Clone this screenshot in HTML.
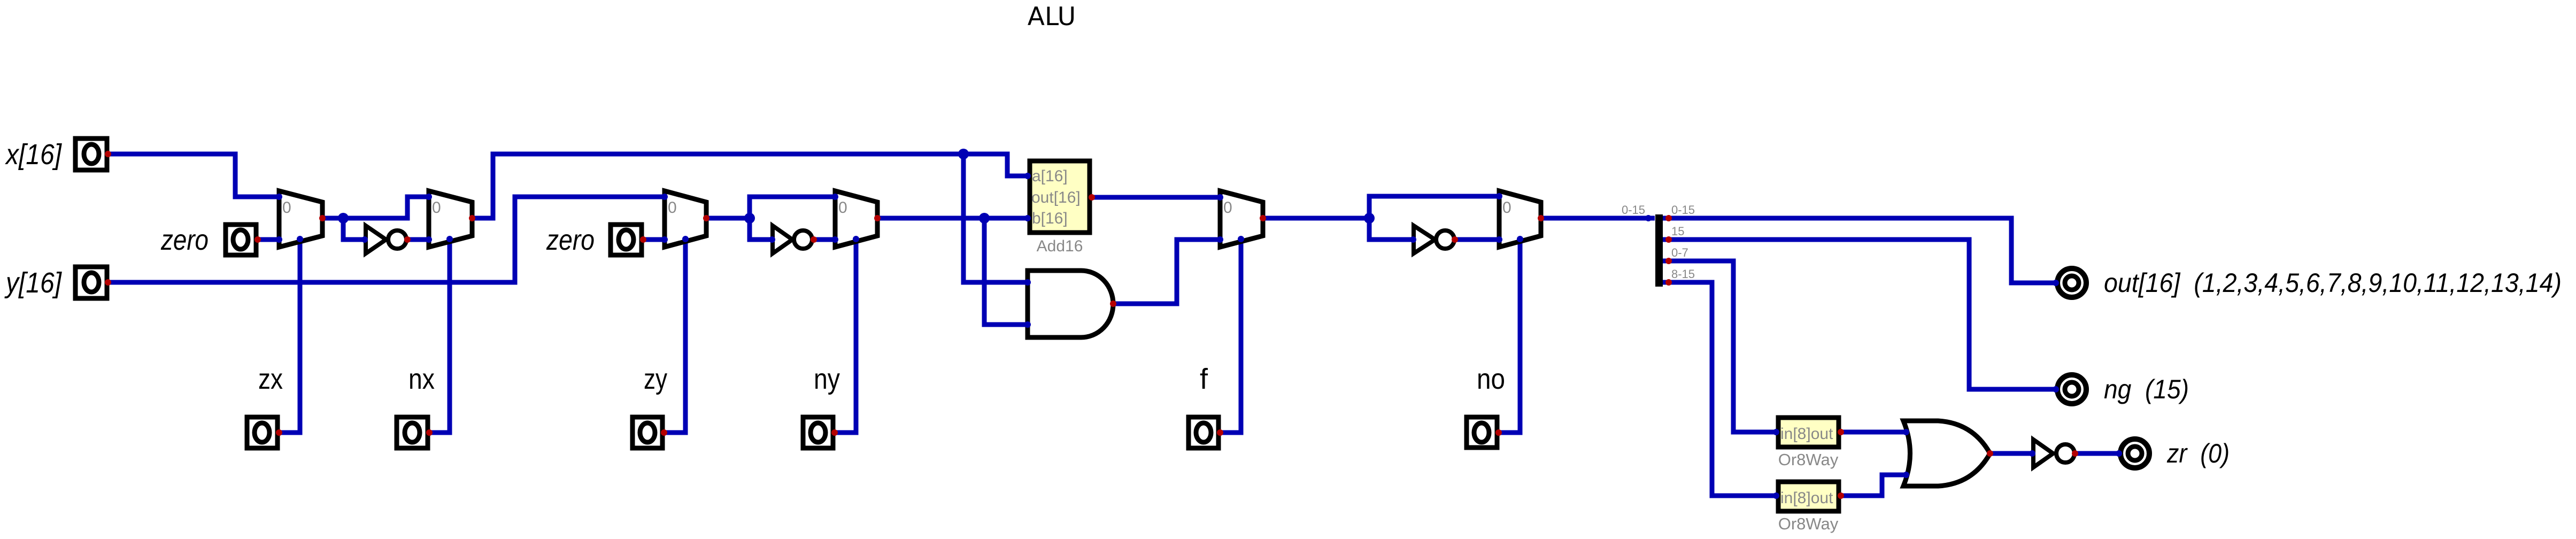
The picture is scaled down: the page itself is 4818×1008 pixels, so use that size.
<!DOCTYPE html>
<html><head><meta charset="utf-8"><style>
html,body{margin:0;padding:0;background:#fff;}
svg{display:block;}
text{font-family:"Liberation Sans",sans-serif;}
</style></head><body>
<svg width="4818" height="1008" viewBox="0 0 4818 1008" xmlns="http://www.w3.org/2000/svg">
<rect width="4818" height="1008" fill="#fff"/>
<text x="1967" y="47" font-size="47" text-anchor="middle" style="font-family:'DejaVu Sans',sans-serif">ALU</text>

<g fill="none" stroke="#0000b4" stroke-width="9" stroke-linejoin="miter">
<polyline points="204,288 440,288 440,368 522,368"/>
<polyline points="483,448 522,448"/>
<polyline points="603,408 762,408 762,368 802,368"/>
<polyline points="642,408 642,448 682,448"/>
<polyline points="762,448 802,448"/>
<polyline points="883,408 922,408 922,288 1884,288 1884,329 1922,329"/>
<polyline points="204,528 963,528 963,368 1243,368"/>
<polyline points="1204,448 1243,448"/>
<polyline points="1321,408 1402,408 1402,368 1562,368"/>
<polyline points="1402,408 1402,448 1444,448"/>
<polyline points="1522,448 1562,448"/>
<polyline points="1641,408 1922,408"/>
<polyline points="1802,288 1802,528 1922,528"/>
<polyline points="1841,408 1841,607 1922,607"/>
<polyline points="2042,369 2282,369"/>
<polyline points="2082,568 2201,568 2201,448 2282,448"/>
<polyline points="2362,408 2561,408 2561,367 2804,367"/>
<polyline points="2561,408 2561,448 2643,448"/>
<polyline points="2721,448 2804,448"/>
<polyline points="2882,408 3095,408"/>
<polyline points="3110,408 3762,408 3762,529 3843,529"/>
<polyline points="3110,448 3683,448 3683,728 3843,728"/>
<polyline points="3110,488 3242,488 3242,808 3322,808"/>
<polyline points="3110,528 3202,528 3202,927 3322,927"/>
<polyline points="3443,808 3565,808"/>
<polyline points="3443,927 3520,927 3520,888 3565,888"/>
<polyline points="3722,848 3801,848"/>
<polyline points="3881,848 3962,848"/>
<polyline points="561,445 561,809 523,809"/>
<polyline points="841,445 841,809 804,809"/>
<polyline points="1282,445 1282,809 1243,809"/>
<polyline points="1601,445 1601,809 1562,809"/>
<polyline points="2321,445 2321,809 2283,809"/>
<polyline points="2843,445 2843,809 2804,809"/>
</g>

<g fill="#fff" stroke="#000" stroke-width="9">
<polygon points="522,357 603,378 603,441 522,462"/>
<polygon points="802,357 883,378 883,441 802,462"/>
<polygon points="1243,357 1321,378 1321,441 1243,462"/>
<polygon points="1562,357 1641,378 1641,441 1562,462"/>
<polygon points="2282,357 2362,378 2362,441 2282,462"/>
<polygon points="2804,357 2882,378 2882,441 2804,462"/>
</g>
<g fill="#888" font-size="30">
<text x="528" y="398">0</text><text x="808" y="398">0</text><text x="1249" y="398">0</text>
<text x="1568" y="398">0</text><text x="2288" y="398">0</text><text x="2810" y="398">0</text>
</g>

<g fill="#fff" stroke="#000" stroke-width="8">
<polygon points="684,422 722,448 684,474"/><circle cx="743" cy="448" r="17"/>
<polygon points="1445,422 1482,448 1445,474"/><circle cx="1502" cy="448" r="17"/>
<polygon points="2644,422 2684,448 2644,474"/><circle cx="2703" cy="448" r="17"/>
<polygon points="3803,822 3840,848 3803,874"/><circle cx="3863" cy="848" r="17"/>
</g>

<g>
<rect x="1926" y="301" width="112" height="134" fill="#ffffc4" stroke="#000" stroke-width="9"/>
<g fill="#888" font-size="30"><text x="1930" y="339">a[16]</text><text x="1929" y="379">out[16]</text><text x="1930" y="418">b[16]</text>
<text x="1982" y="470" text-anchor="middle">Add16</text></g>
</g>
<path d="M1922,506 L2022,506 A60,62.5 0 0 1 2022,631 L1922,631 Z" fill="#fff" stroke="#000" stroke-width="9"/>

<rect x="3096" y="401" width="14" height="135" fill="#000"/>
<g fill="#888" font-size="22">
<text x="3033" y="400">0-15</text><text x="3126" y="400">0-15</text><text x="3126" y="440">15</text>
<text x="3126" y="480">0-7</text><text x="3126" y="520">8-15</text></g>

<g>
<rect x="3326" y="781" width="113" height="55" fill="#ffffc4" stroke="#000" stroke-width="9"/>
<text x="3330" y="821" fill="#888" font-size="30">in[8]out</text>
<text x="3382" y="870" fill="#888" font-size="31" text-anchor="middle">Or8Way</text></g>
<g>
<rect x="3326" y="901" width="113" height="55" fill="#ffffc4" stroke="#000" stroke-width="9"/>
<text x="3330" y="941" fill="#888" font-size="30">in[8]out</text>
<text x="3382" y="990" fill="#888" font-size="31" text-anchor="middle">Or8Way</text></g>
<path d="M3560,787 Q3585,848 3560,909 L3625,909 Q3690,905 3722,848 Q3690,791 3625,787 Z" fill="#fff" stroke="#000" stroke-width="9"/>

<g fill="#fff" stroke="#000" stroke-width="9">
<g><rect x="141" y="259" width="59" height="59"/><ellipse cx="171" cy="288" rx="14" ry="18"/></g>
<g><rect x="141" y="499" width="59" height="59"/><ellipse cx="171" cy="528" rx="14" ry="18"/></g>
<g><rect x="422" y="420" width="57" height="57"/><ellipse cx="450" cy="448" rx="14" ry="18"/></g>
<g><rect x="1142" y="420" width="58" height="57"/><ellipse cx="1171" cy="448" rx="14" ry="18"/></g>
<g><rect x="462" y="780" width="57" height="58"/><ellipse cx="490" cy="809" rx="14" ry="18"/></g>
<g><rect x="742" y="780" width="58" height="58"/><ellipse cx="771" cy="809" rx="14" ry="18"/></g>
<g><rect x="1183" y="780" width="56" height="58"/><ellipse cx="1211" cy="809" rx="14" ry="18"/></g>
<g><rect x="1502" y="780" width="56" height="58"/><ellipse cx="1530" cy="809" rx="14" ry="18"/></g>
<g><rect x="2223" y="780" width="56" height="58"/><ellipse cx="2251" cy="809" rx="14" ry="18"/></g>
<g><rect x="2743" y="780" width="57" height="57"/><ellipse cx="2771" cy="809" rx="14" ry="18"/></g>
</g>
<g fill="none" stroke="#000">
<g><circle cx="3875" cy="529" r="27" stroke-width="10"/><circle cx="3875" cy="529" r="13" stroke-width="9"/></g>
<g><circle cx="3875" cy="728" r="27" stroke-width="10"/><circle cx="3875" cy="728" r="13" stroke-width="9"/></g>
<g><circle cx="3993" cy="848" r="27" stroke-width="10"/><circle cx="3993" cy="848" r="13" stroke-width="9"/></g>
</g>

<g fill="#0000b4">
<circle cx="642" cy="408" r="10"/><circle cx="1402" cy="408" r="10"/><circle cx="1802" cy="288" r="10"/>
<circle cx="1841" cy="408" r="10"/><circle cx="2561" cy="408" r="10"/>
</g>
<g fill="#b40000">
<circle cx="202" cy="288" r="6"/><circle cx="202" cy="528" r="6"/><circle cx="482" cy="448" r="6"/><circle cx="1203" cy="448" r="6"/>
<circle cx="522" cy="809" r="6"/><circle cx="803" cy="809" r="6"/><circle cx="1242" cy="809" r="6"/><circle cx="1561" cy="809" r="6"/>
<circle cx="2282" cy="809" r="6"/><circle cx="2803" cy="809" r="6"/>
<circle cx="603" cy="408" r="6"/><circle cx="883" cy="408" r="6"/><circle cx="1321" cy="408" r="6"/><circle cx="1641" cy="408" r="6"/>
<circle cx="2362" cy="408" r="6"/><circle cx="2882" cy="408" r="6"/>
<circle cx="762" cy="448" r="6"/><circle cx="1522" cy="448" r="6"/><circle cx="2721" cy="448" r="6"/><circle cx="3881" cy="848" r="6"/>
<circle cx="2042" cy="369" r="6"/><circle cx="2082" cy="568" r="6"/><circle cx="3722" cy="848" r="6"/>
<circle cx="3121" cy="408" r="6"/><circle cx="3121" cy="448" r="6"/><circle cx="3121" cy="488" r="6"/><circle cx="3121" cy="528" r="6"/>
<circle cx="3443" cy="808" r="6"/><circle cx="3443" cy="927" r="6"/>
</g>
<g fill="#0000b4">
<circle cx="522" cy="368" r="6"/><circle cx="522" cy="448" r="6"/><circle cx="802" cy="368" r="6"/><circle cx="802" cy="448" r="6"/>
<circle cx="1243" cy="368" r="6"/><circle cx="1243" cy="448" r="6"/><circle cx="1562" cy="368" r="6"/><circle cx="1562" cy="448" r="6"/>
<circle cx="2282" cy="369" r="6"/><circle cx="2282" cy="448" r="6"/><circle cx="2804" cy="367" r="6"/><circle cx="2804" cy="448" r="6"/>
<circle cx="561" cy="447" r="6"/><circle cx="841" cy="447" r="6"/><circle cx="1282" cy="447" r="6"/><circle cx="1601" cy="447" r="6"/>
<circle cx="2321" cy="447" r="6"/><circle cx="2843" cy="447" r="6"/>
<circle cx="682" cy="448" r="6"/><circle cx="1444" cy="448" r="6"/><circle cx="2643" cy="448" r="6"/><circle cx="3801" cy="848" r="6"/>
<circle cx="1922" cy="329" r="6"/><circle cx="1922" cy="408" r="6"/><circle cx="1922" cy="528" r="6"/><circle cx="1922" cy="607" r="6"/>
<circle cx="3083" cy="408" r="6"/><circle cx="3322" cy="808" r="6"/><circle cx="3322" cy="927" r="6"/>
<circle cx="3565" cy="808" r="6"/><circle cx="3565" cy="888" r="6"/>
<circle cx="3845" cy="529" r="6"/><circle cx="3845" cy="728" r="6"/><circle cx="3963" cy="848" r="6"/>
</g>

<g font-size="54" font-style="italic" fill="#000">
<text x="11" y="307" textLength="104" lengthAdjust="spacingAndGlyphs">x[16]</text>
<text x="11" y="547" textLength="104" lengthAdjust="spacingAndGlyphs">y[16]</text>
<text x="301" y="467" textLength="89" lengthAdjust="spacingAndGlyphs">zero</text>
<text x="1022" y="467" textLength="90" lengthAdjust="spacingAndGlyphs">zero</text>
</g>
<g font-size="54" fill="#000">
<text x="483" y="727" textLength="46" lengthAdjust="spacingAndGlyphs">zx</text>
<text x="764" y="727" textLength="49" lengthAdjust="spacingAndGlyphs">nx</text>
<text x="1204" y="727" textLength="44" lengthAdjust="spacingAndGlyphs">zy</text>
<text x="1522" y="727" textLength="49" lengthAdjust="spacingAndGlyphs">ny</text>
<text x="2244" y="727">f</text>
<text x="2762" y="727" textLength="53" lengthAdjust="spacingAndGlyphs">no</text>
</g>
<g font-size="50" font-style="italic" fill="#000">
<text x="3935" y="546" textLength="856" lengthAdjust="spacingAndGlyphs">out[16]&#160; (1,2,3,4,5,6,7,8,9,10,11,12,13,14)</text>
<text x="3935" y="745" textLength="159" lengthAdjust="spacingAndGlyphs">ng&#160; (15)</text>
<text x="4053" y="865" textLength="117" lengthAdjust="spacingAndGlyphs">zr&#160; (0)</text>
</g>
</svg>
</body></html>
